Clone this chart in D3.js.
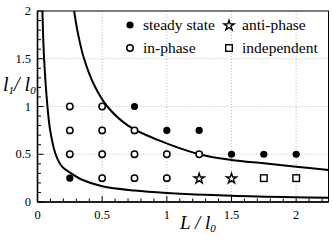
<!DOCTYPE html>
<html><head><meta charset="utf-8">
<script src="https://cdn.jsdelivr.net/npm/d3@7"></script>
</head><body style="margin:0"><svg id="c" width="332" height="249"></svg>
<script>
const xTicks = [0, 0.5, 1, 1.5, 2];
const yTicks = [0, 0.5, 1, 1.5, 2];
const xTickLabels = ["0", "0.5", "1", "1.5", "2"];
const yTickLabels = ["0", "0.5", "1", "1.5", "2"];
const steadyState = [[0.25,0.25],[0.75,1],[1,0.75],[1.25,0.75],[1.5,0.5],[1.75,0.5],[2,0.5]];
const inPhase = [[0.25,0.5],[0.25,0.75],[0.25,1],[0.5,0.25],[0.5,0.5],[0.5,0.75],[0.5,1],[0.75,0.25],[0.75,0.5],[0.75,0.75],[1,0.25],[1,0.5],[1.25,0.5]];
const antiPhase = [[1.25,0.25],[1.5,0.25]];
const independent = [[1.75,0.25],[2,0.25]];
const upperCurve = [[0.283,2.0],[0.315,1.75],[0.36,1.5],[0.44,1.22],[0.54,1.0],[0.7,0.8],[0.93,0.65],[1.25,0.5],[1.5,0.44],[1.75,0.405],[2.0,0.37],[2.25,0.335]];
const lowerCurve = [[0.038,2.0],[0.051,1.5],[0.077,1.0],[0.098,0.75],[0.14,0.5],[0.19,0.37],[0.26,0.3],[0.35,0.23],[0.5,0.165],[0.75,0.12],[1.0,0.095],[1.5,0.066],[2.0,0.05],[2.25,0.045]];
const legendLabels = ["steady state","anti-phase","in-phase","independent"];

const FONT = '"Liberation Serif"';
const svg = d3.select("#c");
const L = 37.5, R = 328.5, T = 11, B = 202;
const x = d3.scaleLinear().domain([0, 2.25]).range([L, R]);
const y = d3.scaleLinear().domain([0, 2]).range([B, T]);

function txt(parent){ return parent.append("text").style("font-family",FONT).attr("font-family","Liberation Serif"); }

svg.append("defs").append("clipPath").attr("id","clip").append("rect").attr("x",L).attr("y",T).attr("width",R-L).attr("height",B-T);

const g = svg.append("g");
g.selectAll(".gx").data(xTicks.filter(d=>d>0)).enter().append("line")
  .attr("x1",d=>x(d)).attr("x2",d=>x(d)).attr("y1",T).attr("y2",B)
  .attr("stroke","#aaa").attr("stroke-width",0.8).attr("stroke-dasharray","1,2");
g.selectAll(".gy").data(yTicks.filter(d=>d>0&&d<2)).enter().append("line")
  .attr("y1",d=>y(d)).attr("y2",d=>y(d)).attr("x1",L).attr("x2",R)
  .attr("stroke","#aaa").attr("stroke-width",0.8).attr("stroke-dasharray","1,2");

const xMinor = d3.range(0, 2.2501, 0.1).map(v=>+v.toFixed(2));
const yMinor = d3.range(0, 2.0001, 0.1).map(v=>+v.toFixed(2));
const isMaj = v => Math.abs(v*2 - Math.round(v*2)) < 1e-6;
g.selectAll(".tx").data(xMinor).enter().append("line")
  .attr("x1",d=>x(d)).attr("x2",d=>x(d)).attr("y1",B).attr("y2",d=>B-(isMaj(d)?6:3.5))
  .attr("stroke","#000").attr("stroke-width",1);
g.selectAll(".ty").data(yMinor).enter().append("line")
  .attr("y1",d=>y(d)).attr("y2",d=>y(d)).attr("x1",L).attr("x2",d=>L+(isMaj(d)?6:3.5))
  .attr("stroke","#000").attr("stroke-width",1);

svg.append("rect").attr("x",L).attr("y",T).attr("width",R-L).attr("height",B-T)
  .attr("fill","none").attr("stroke","#000").attr("stroke-width",1);
svg.append("line").attr("x1",L).attr("x2",L).attr("y1",T).attr("y2",B).attr("stroke","#000").attr("stroke-width",1.6);
svg.append("line").attr("x1",L).attr("x2",R).attr("y1",B).attr("y2",B).attr("stroke","#000").attr("stroke-width",1.6);

xTicks.forEach((d,i)=>{
  txt(svg).attr("x",x(d)).attr("y",219).attr("text-anchor","middle").attr("font-size",12.5).text(xTickLabels[i]);
});
yTicks.forEach((d,i)=>{
  txt(svg).attr("x",31).attr("y",y(d)+4).attr("text-anchor","end").attr("font-size",12.5).text(yTickLabels[i]);
});

const xt = txt(svg).attr("x",180).attr("y",229).attr("font-size",19).attr("font-style","italic");
xt.append("tspan").text("L / l");
xt.append("tspan").attr("font-size",11).attr("dy",3).text("0");
const yt = txt(svg).attr("x",3).attr("y",91).attr("font-size",20).attr("font-style","italic");
yt.append("tspan").text("l");
yt.append("tspan").attr("font-size",11).attr("dy",3).text("1");
yt.append("tspan").attr("dy",-3).text("/ l");
yt.append("tspan").attr("font-size",11).attr("dy",3).text("0");

const line = d3.line().x(d=>x(d[0])).y(d=>y(d[1])).curve(d3.curveCatmullRom);
const cg = svg.append("g").attr("clip-path","url(#clip)");
cg.append("path").datum(upperCurve).attr("d",line).attr("fill","none").attr("stroke","#000").attr("stroke-width",2);
cg.append("path").datum(lowerCurve).attr("d",line).attr("fill","none").attr("stroke","#000").attr("stroke-width",2);

const mg = svg.append("g");
function drawSet(data, type, px, py){
  const sel = mg.selectAll(null).data(data).enter();
  const fx = px || (d=>x(d[0])), fy = py || (d=>y(d[1]));
  if(type==="filled") sel.append("circle").attr("cx",fx).attr("cy",fy).attr("r",3.6).attr("fill","#000");
  if(type==="open") sel.append("circle").attr("cx",fx).attr("cy",fy).attr("r",3.2).attr("fill","#fff").attr("stroke","#000").attr("stroke-width",1.5);
  if(type==="star") sel.append("path").attr("d",d3.symbol(d3.symbolStar,32)).attr("transform",d=>`translate(${fx(d)},${fy(d)+0.5})`).attr("fill","#fff").attr("stroke","#000").attr("stroke-width",1.4);
  if(type==="square") sel.append("rect").attr("x",d=>fx(d)-3.3).attr("y",d=>fy(d)-3.3).attr("width",6.6).attr("height",6.6).attr("fill","#fff").attr("stroke","#000").attr("stroke-width",1.4);
}
drawSet(steadyState,"filled");
drawSet(inPhase,"open");
drawSet(antiPhase,"star");
drawSet(independent,"square");

const leg = [
  {t:legendLabels[0], type:"filled", mx:130, my:25},
  {t:legendLabels[1], type:"star", mx:229, my:25},
  {t:legendLabels[2], type:"open", mx:130, my:48},
  {t:legendLabels[3], type:"square", mx:229, my:48}
];
leg.forEach(l=>{
  drawSet([0], l.type, ()=>l.mx, ()=>l.my);
  txt(svg).attr("x",l.mx+13).attr("y",l.my+5).attr("font-size",15.5).text(l.t);
});
</script></body></html>
